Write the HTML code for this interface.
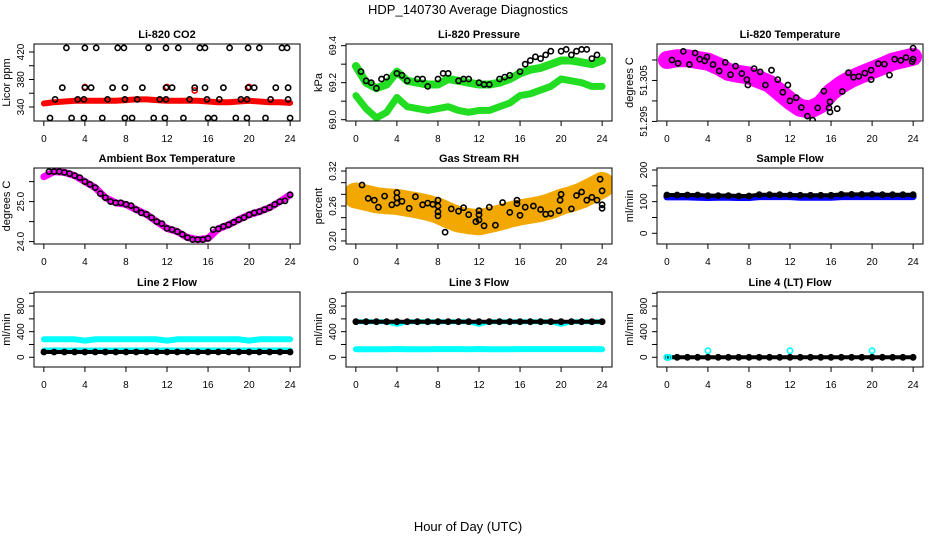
<!DOCTYPE html>
<html><head><meta charset="utf-8"><style>
html,body{margin:0;padding:0;background:#fff;}
svg{display:block;font-family:"Liberation Sans",sans-serif;}
</style></head><body>
<svg id="c" width="936" height="540" viewBox="0 0 936 540">
<text x="468" y="14" text-anchor="middle" font-size="13">HDP_140730  Average Diagnostics</text>
<text x="468" y="531" text-anchor="middle" font-size="13">Hour of Day (UTC)</text>
</svg>
<script>
// ---- data ----
const hourly = [0,1,2,3,4,5,6,7,8,9,10,11,12,13,14,15,16,17,18,19,20,21,22,23,24];
const xTicks = [0,4,8,12,16,20,24];

const co2Band = [345,347,348,349,349,349,349,349,350,351,351,350,349,349,349,349,348,347,347,348,349,348,347,347,346];
const co2RedHours = [4,12,14.7,20];
const co2RedVals = [369,369,364,369];
const co2Hours = [2.2,4,5.1,7.2,7.8,10.2,11.9,13.1,15.2,15.7,18.1,19.9,21,23.2,23.7,
 1.8,4,4.6,6.7,7.9,9.6,11.9,12.5,14.7,15.7,17.5,19.9,20.5,22.6,23.8,
 1.1,3.3,3.9,6.2,7.9,9.1,11.3,11.9,14.2,15.9,17.1,19.2,19.8,22.1,23.8,
 0.6,2.7,3.9,5.7,7.9,8.6,10.7,11.8,13.6,16,16.6,18.7,19.8,21.6,24];
const co2Vals = [426,426,426,426,426,426,426,426,426,426,426,426,426,426,426,
 368,368,368,368,368,368,368,368,368,368,368,368,368,368,368,
 351,351,351,351,351,351,351,351,351,351,351,351,351,351,351,
 324,324,324,324,324,324,324,324,324,324,324,324,324,324,324];

const presUpper = [69.29,69.2,69.17,69.19,69.26,69.21,69.2,69.19,69.19,69.22,69.21,69.2,69.19,69.19,69.2,69.22,69.25,69.27,69.28,69.3,69.32,69.32,69.31,69.3,69.32];
const presLower = [69.13,69.06,69.01,69.04,69.12,69.07,69.06,69.05,69.06,69.07,69.05,69.04,69.05,69.05,69.07,69.09,69.13,69.14,69.16,69.18,69.22,69.21,69.2,69.18,69.18];
const presHours = [0.5,1,1.5,2,2.5,3,4,4.5,5,6,6.5,7,8,8.5,9,10,10.5,11,12,12.5,13,14,14.5,15,16,16.5,17,17.5,18,18.5,19,20,20.5,21,21.5,22,22.5,23,23.5];
const presVals = [69.26,69.21,69.2,69.17,69.22,69.23,69.25,69.24,69.21,69.22,69.22,69.18,69.22,69.25,69.25,69.21,69.22,69.22,69.2,69.19,69.19,69.22,69.23,69.24,69.26,69.3,69.32,69.34,69.33,69.35,69.37,69.37,69.38,69.35,69.37,69.38,69.38,69.33,69.35];

const tempBand = [51.3100,51.3104,51.3104,51.3100,51.3096,51.3085,51.3071,51.3066,51.3062,51.3052,51.3042,51.3021,51.3000,51.2983,51.2979,51.2992,51.3021,51.3040,51.3054,51.3065,51.3075,51.3085,51.3096,51.3102,51.3108];
const tempHours = [0.5,1.1,1.6,2.2,2.75,3.2,3.7,3.9,4.5,5.1,5.7,6.2,6.7,7.3,7.8,7.9,8.5,9.1,9.6,10.2,10.8,11.3,11.8,12,12.6,13.1,13.7,14.2,14.7,15.3,15.8,15.9,15.9,16.6,17.1,17.7,18.2,18.7,19.3,19.9,19.9,20.6,21.2,21.7,22.2,22.8,23.3,23.9,24,24];
const tempVals = [51.3100,51.3092,51.3121,51.3089,51.3117,51.3102,51.3098,51.3107,51.3089,51.3073,51.3094,51.3064,51.3085,51.3067,51.3052,51.3039,51.3079,51.3071,51.3039,51.3075,51.3052,51.3021,51.3039,51.3000,51.3008,51.2984,51.2963,51.2953,51.2983,51.3024,51.2983,51.2998,51.2973,51.2981,51.3023,51.3069,51.3058,51.3060,51.3068,51.3075,51.3052,51.3091,51.3090,51.3063,51.3102,51.3099,51.3106,51.3096,51.3129,51.3102];

const ambBand = [25.62,25.75,25.73,25.65,25.5,25.35,25.1,24.97,24.93,24.8,24.68,24.5,24.33,24.25,24.1,24.05,24.08,24.32,24.42,24.55,24.67,24.75,24.85,25.0,25.17];
const ambHours = [0.5,1,1.5,2,2.5,3,3.5,4,4.5,5,5.5,6,6.5,7,7.5,8,8.5,9,9.5,10,10.5,11,11.5,12,12.5,13,13.5,14,14.5,15,15.5,16,16.5,17,17.5,18,18.5,19,19.5,20,20.5,21,21.5,22,22.5,23,23.5,24];
const ambVals = [25.75,25.75,25.75,25.73,25.7,25.65,25.6,25.5,25.43,25.35,25.2,25.1,25.0,24.97,24.97,24.93,24.9,24.8,24.72,24.68,24.6,24.5,24.45,24.33,24.3,24.25,24.18,24.1,24.05,24.05,24.05,24.08,24.3,24.32,24.38,24.42,24.48,24.55,24.6,24.67,24.72,24.75,24.8,24.85,24.93,25.0,25.02,25.17];

const rhBand = [0.278,0.274,0.27,0.268,0.267,0.264,0.261,0.257,0.252,0.244,0.237,0.234,0.232,0.236,0.24,0.245,0.249,0.252,0.255,0.26,0.267,0.272,0.278,0.287,0.296];
const rhHours = [0.6,1.2,1.8,2.2,2.8,3.5,4,4,4,4.5,5.2,5.8,6.5,7,7.5,8,8,8,8,8.7,9.3,10,10.5,11,11.7,12,12,12,12.5,13,13.6,14.3,15,15.7,15.7,16,16.5,17.3,18,18.5,19,19.8,19.9,20,21,21.5,22,22.5,23,23.5,23.8,24,24,24];
const rhVals = [0.296,0.273,0.27,0.258,0.277,0.262,0.265,0.274,0.283,0.268,0.256,0.276,0.262,0.265,0.263,0.27,0.26,0.25,0.243,0.215,0.255,0.251,0.257,0.245,0.233,0.252,0.245,0.236,0.226,0.258,0.227,0.266,0.249,0.264,0.27,0.244,0.258,0.26,0.254,0.246,0.247,0.252,0.27,0.28,0.255,0.278,0.284,0.27,0.275,0.27,0.306,0.286,0.262,0.256];

const sampleBlue = [115,115,115,114,113,114,114,113,113,116,116,116,116,114,114,114,114,116,116,116,116,116,116,116,116];
const sampleBlack = [121,121,121,121,119,119,119,118,118,122,122,122,121,120,120,120,120,123,123,123,123,122,122,122,122];

const l2Upper = [281,281,281,281,260,281,281,281,281,281,281,281,260,281,281,281,281,281,281,281,260,281,281,281,281];
const l2Lower = [114,114,114,114,114,114,114,114,114,114,114,114,114,114,114,114,114,114,114,114,114,114,114,114,114];
const l2Black = [83,83,83,83,83,83,83,83,83,83,83,83,83,83,83,83,83,83,83,83,83,83,83,83,83];

const l3Black = [556,556,556,556,556,556,556,556,556,556,556,556,556,556,556,556,556,556,556,556,556,556,556,556,556];
const l3CyanTop = [556,556,556,556,515,556,556,556,556,556,556,556,515,556,556,556,556,556,556,556,515,556,556,556,556];
const l3Cyan = [125,125,125,125,130,125,125,125,128,128,128,125,130,125,125,125,128,128,128,128,128,128,128,128,125];

const l4Black = [0,0,0,0,0,0,0,0,0,0,0,0,0,0,0,0,0,0,0,0,0,0,0,0,0];
const l4CyanHours = [0,0.2,4,12,20];
const l4CyanVals = [0,0,103,103,103];

// ---- drawing ----
const NS = 'http://www.w3.org/2000/svg';
const svg = document.getElementById('c');
const cols = [[34,300],[346,612],[657,923]];
const rows = [[44,121],[168,244],[292,367]];

function mk(tag, attrs, parent){
  const e = document.createElementNS(NS, tag);
  for (const k in attrs) e.setAttribute(k, attrs[k]);
  (parent||svg).appendChild(e);
  return e;
}

function panel(ci, ri, title, ylab, ylim, yTicks, yLabels, name){
  const [l,r] = cols[ci], [t,b] = rows[ri];
  const g = mk('g', {});
  
  
  const xs = h => l + (h + 0.96) / 25.92 * (r - l);
  const ys = v => b - (v - ylim[0]) / (ylim[1] - ylim[0]) * (b - t);
  const clip = 'clip' + name;
  const cp = mk('clipPath', {id: clip}, g);
  mk('rect', {x:l, y:t, width:r-l, height:b-t}, cp);
  const plot = mk('g', {'clip-path': 'url(#' + clip + ')'}, g);
  
  
  const box = mk('rect', {x:l, y:t, width:r-l, height:b-t, fill:'none', stroke:'#000', 'stroke-width':1}, g);
  
  
  const tt = mk('text', {x:(l+r)/2, y:t-6, 'text-anchor':'middle', 'font-size':11, 'font-weight':'bold'}, g);
  tt.textContent = title;
  
  
  // x axis
  mk('line', {x1:xs(xTicks[0]), x2:xs(xTicks[xTicks.length-1]), y1:b, y2:b, stroke:'#000'}, g);
  xTicks.forEach(h => {
    mk('line', {x1:xs(h), x2:xs(h), y1:b, y2:b+5, stroke:'#000'}, g);
    const tx = mk('text', {x:xs(h), y:b+21, 'text-anchor':'middle', 'font-size':10}, g);
    tx.textContent = h;
    
    
  });
  // y axis
  mk('line', {x1:l, x2:l, y1:ys(yTicks[0]), y2:ys(yTicks[yTicks.length-1]), stroke:'#000'}, g);
  yTicks.forEach(v => mk('line', {x1:l-5, x2:l, y1:ys(v), y2:ys(v), stroke:'#000'}, g));
  yLabels.forEach(v => {
    const y = ys(v);
    const tx = mk('text', {x:l-10, y:y, 'text-anchor':'middle', 'font-size':10, transform:'rotate(-90 '+(l-10)+' '+y+')'}, g);
    tx.textContent = String(v);
    
    
  });
  const ym = (t+b)/2, yx = l-24;
  const yt = mk('text', {x:yx, y:ym, 'text-anchor':'middle', 'font-size':11, transform:'rotate(-90 '+yx+' '+ym+')'}, g);
  yt.textContent = ylab;
  
  
  return {xs, ys, plot};
}

function band(p, hours, vals, color, w, nm){
  const pts = hours.map((h,i) => p.xs(h).toFixed(1) + ',' + p.ys(vals[i]).toFixed(1)).join(' ');
  const e = mk('polyline', {points:pts, fill:'none', stroke:color, 'stroke-width':w, 'stroke-linejoin':'round', 'stroke-linecap':'round'}, p.plot);
  
  
}
function pts(p, hours, vals, color, nm, r){
  hours.forEach((h,i) => {
    const c = mk('circle', {cx:p.xs(h).toFixed(1), cy:p.ys(vals[i]).toFixed(1), r:r||2.6, fill:'none', stroke:color, 'stroke-width':1.6}, p.plot);
    
    
  });
}

// Panel 1: CO2
let p = panel(0,0,'Li-820 CO2','Licor ppm',[319.6,431.6],[340,360,380,400,420],[340,380,420],'co2');
band(p, hourly, co2Band, '#ff0000', 6, 'co2-band');
pts(p, co2RedHours, co2RedVals, '#ff0000', 'co2-red-point');
pts(p, co2Hours, co2Vals, '#000', 'co2-point');

// Panel 2: Pressure
p = panel(1,0,'Li-820 Pressure','kPa',[68.993,69.409],[69.0,69.1,69.2,69.3,69.4],['69.0','69.2','69.4'],'pressure');
band(p, hourly, presUpper, '#22dd22', 8, 'pressure-upper-band');
band(p, hourly, presLower, '#22dd22', 7, 'pressure-lower-band');
pts(p, presHours, presVals, '#000', 'pressure-point');

// Panel 3: Temperature
p = panel(2,0,'Li-820 Temperature','degrees C',[51.2951,51.3139],[51.295,51.300,51.305,51.310],['51.295','51.305'],'li820-temp');
band(p, hourly, tempBand, '#ff00ff', 18, 'temp-band');
pts(p, tempHours, tempVals, '#000', 'temp-point');

// Panel 4: Ambient Box Temperature
p = panel(0,1,'Ambient Box Temperature','degrees C',[23.94,25.84],[24.0,24.5,25.0,25.5],['24.0','25.0'],'ambient');
band(p, hourly, ambBand, '#ff00ff', 7, 'ambient-band');
pts(p, ambHours, ambVals, '#000', 'ambient-point');

// Panel 5: Gas Stream RH
p = panel(1,1,'Gas Stream RH','percent',[0.1948,0.3252],[0.20,0.22,0.24,0.26,0.28,0.30,0.32],['0.20','0.26','0.32'],'rh');
band(p, hourly, rhBand, '#f2a800', 26, 'rh-band');
pts(p, rhHours, rhVals, '#000', 'rh-point');

// Panel 6: Sample Flow
p = panel(2,1,'Sample Flow','ml/min',[-33.8,206.3],[0,50,100,150,200],[0,100,200],'sample-flow');
band(p, hourly, sampleBlue, '#0000ff', 7, 'sample-flow-band');
band(p, hourly, sampleBlack, '#000', 4, 'sample-flow-line');
pts(p, hourly, sampleBlack, '#000', 'sample-flow-point');

// Panel 7: Line 2 Flow
p = panel(0,2,'Line 2 Flow','ml/min',[-152,1020],[0,200,400,600,800,1000],[0,400,800],'line2');
band(p, hourly, l2Upper, '#00ffff', 6, 'line2-upper-band');
band(p, hourly, l2Lower, '#00ffff', 5, 'line2-lower-band');
band(p, hourly, l2Black, '#000', 4, 'line2-line');
pts(p, hourly, l2Black, '#000', 'line2-point');

// Panel 8: Line 3 Flow
p = panel(1,2,'Line 3 Flow','ml/min',[-152,1020],[0,200,400,600,800,1000],[0,400,800],'line3');
band(p, hourly, l3CyanTop, '#00ffff', 5, 'line3-upper-cyan');
band(p, hourly, l3Cyan, '#00ffff', 6, 'line3-lower-band');
band(p, hourly, l3Black, '#000', 4, 'line3-line');
pts(p, hourly, l3Black, '#000', 'line3-point');

// Panel 9: Line 4 Flow
p = panel(2,2,'Line 4 (LT) Flow','ml/min',[-152,1020],[0,200,400,600,800,1000],[0,400,800],'line4');
band(p, hourly, l4Black, '#000', 4, 'line4-line');
pts(p, hourly, l4Black, '#000', 'line4-point');
pts(p, l4CyanHours, l4CyanVals, '#00ffff', 'line4-cyan-point');
</script>
</body></html>
